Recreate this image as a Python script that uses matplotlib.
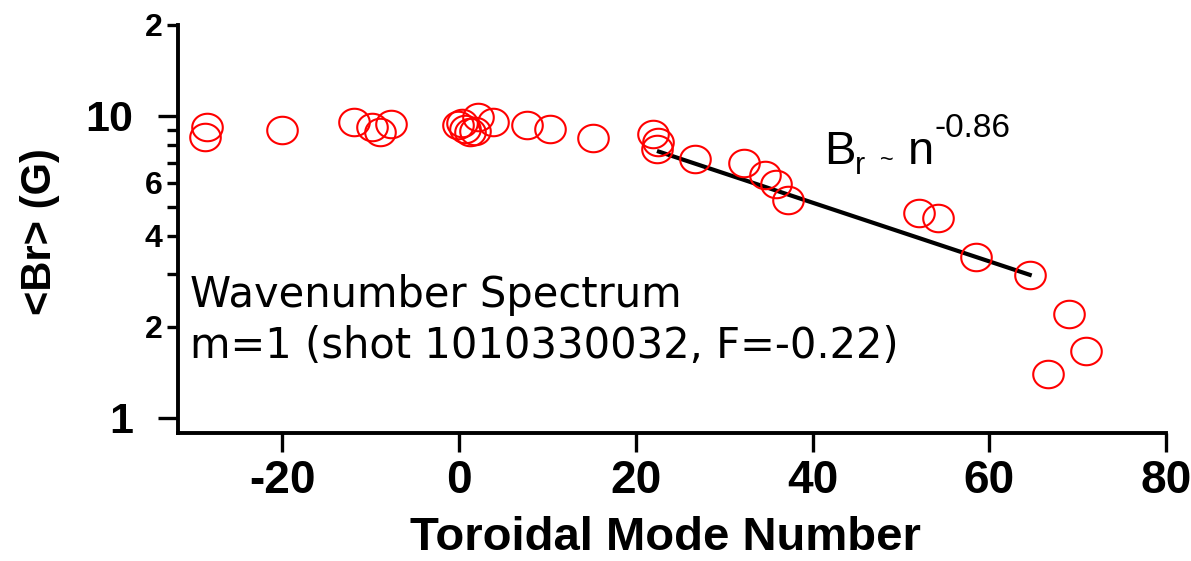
import matplotlib
matplotlib.use("Agg")
import matplotlib.pyplot as plt
import numpy as np
from matplotlib.path import Path

plt.rcParams['font.family'] = ['Liberation Sans', 'DejaVu Sans']

# Data
mode_n = [-28.5, -28.7, -20.0, -11.9, -9.8, -8.9, -7.7, -0.1, 0.3, 0.7, 1.2, 1.8,
          2.1, 3.8, 7.7, 10.3, 15.2, 21.9, 22.5, 22.4, 26.7, 32.2, 34.6, 35.9,
          37.2, 52.0, 54.2, 58.5, 64.6, 69.0, 71.0, 66.7]
br_g = [9.19, 8.51, 8.98, 9.55, 9.19, 8.85, 9.41, 9.33, 9.48, 9.05, 8.85, 8.92,
        9.92, 9.55, 9.33, 9.05, 8.45, 8.71, 8.20, 7.77, 7.20, 6.98, 6.37, 5.94,
        5.26, 4.76, 4.58, 3.40, 2.96, 2.20, 1.66, 1.40]
fit_n = [22.4, 64.8]
fit_br = [7.65, 2.96]

x_ticks = [-20, 0, 20, 40, 60, 80]
y_major = [1, 10]
y_major_labels = ["1", "10"]
y_minor = [2, 3, 4, 5, 6, 7, 8, 9, 20]
y_minor_labels = ["2", "", "4", "", "6", "", "", "", "2"]

fig = plt.figure(figsize=(11.91, 5.61), dpi=100)
AX_L, AX_R, AX_T, AX_B = 178, 1166, 25, 433
ax = fig.add_axes([AX_L/1191, 1 - AX_B/561, (AX_R-AX_L)/1191, (AX_B-AX_T)/561])

def afrac(px, py):
    return (px - AX_L) / (AX_R - AX_L), (AX_B - py) / (AX_B - AX_T)

# ellipse marker (slightly wider than tall)
t = np.linspace(0, 2*np.pi, 80)
verts = np.column_stack([np.cos(t), 0.9*np.sin(t)])
ell = Path(verts, closed=True)

ax.plot(mode_n, br_g, linestyle='none', marker=ell, markersize=22,
        markerfacecolor='none', markeredgecolor='#ff0000', markeredgewidth=1.5, zorder=3)
ax.plot(fit_n, fit_br, color='black', linewidth=3, solid_capstyle='butt', zorder=2)

ax.set_yscale('log')
ax.set_xlim(-31.8, 80)
ax.set_ylim(0.89, 20)

for s in ['top', 'right']:
    ax.spines[s].set_visible(False)
for s in ['left', 'bottom']:
    ax.spines[s].set_linewidth(2.8)

ax.set_xticks(x_ticks, [str(v) for v in x_ticks], fontsize=33, fontweight='bold')
ax.tick_params(axis='x', length=13.5, width=2.4, pad=5, direction='out')

ax.set_yticks(y_major, y_major_labels, fontsize=31, fontweight='bold')
ax.set_yticks(y_minor, y_minor_labels, minor=True, fontsize=23, fontweight='bold')
ax.tick_params(axis='y', which='major', length=14.5, width=2.4, pad=18)
ax.tick_params(axis='y', which='minor', length=8, width=2.4, pad=3)

ax.set_xlabel('Toroidal Mode Number', fontsize=34, fontweight='bold', va='baseline')
ax.set_ylabel('<Br> (G)', fontsize=30, fontweight='bold', va='center', ha='center')
ax.xaxis.set_label_coords(*afrac(665, 550))
ax.yaxis.set_label_coords(*afrac(40, 232))

ax.text(*afrac(190, 307), 'Wavenumber Spectrum', transform=ax.transAxes,
        fontsize=30, family='DejaVu Sans', ha='left', va='baseline')
ax.text(*afrac(190, 358), 'm=1 (shot 1010330032, F=-0.22)', transform=ax.transAxes,
        fontsize=30, family='DejaVu Sans', ha='left', va='baseline')

# B_r ~ n^-0.86 annotation, assembled from pieces
ax.text(*afrac(824, 164), 'B', transform=ax.transAxes, fontsize=34, ha='left', va='baseline')
ax.text(*afrac(855, 174), 'r', transform=ax.transAxes, fontsize=22, ha='left', va='baseline')
ax.text(*afrac(887, 161), '~', transform=ax.transAxes, fontsize=17, ha='center', va='center')
ax.text(*afrac(908, 164), 'n', transform=ax.transAxes, fontsize=34, ha='left', va='baseline')
ax.text(*afrac(935, 137), '-0.86', transform=ax.transAxes, fontsize=24, ha='left', va='baseline')

fig.savefig('out.png', dpi=100)
